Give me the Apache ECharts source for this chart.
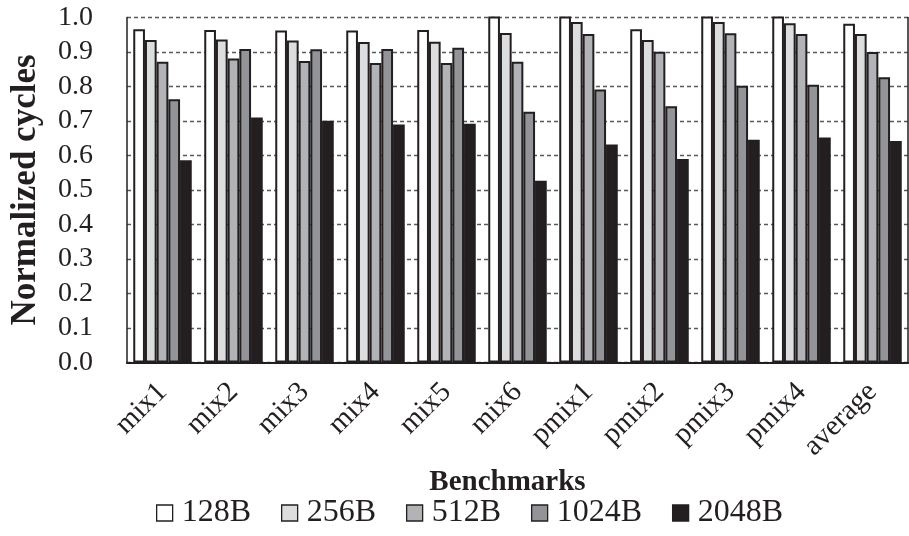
<!DOCTYPE html>
<html>
<head>
<meta charset="utf-8">
<script src="https://cdn.jsdelivr.net/npm/echarts@6/dist/echarts.min.js"></script>
<style>
  html, body { margin: 0; padding: 0; background: #fff; }
  #chart { width: 909px; height: 536px; }
</style>
</head>
<body>
<div id="chart"></div>
<script>
// Benchmarks on the x axis
const categories = ['mix1', 'mix2', 'mix3', 'mix4', 'mix5', 'mix6', 'pmix1', 'pmix2', 'pmix3', 'pmix4', 'average'];
// Normalized cycles per block size
const s128  = [0.966, 0.964, 0.962, 0.962, 0.964, 1.01, 1.01, 0.966, 1.01, 1.01, 0.982];
const s256  = [0.935, 0.936, 0.933, 0.929, 0.930, 0.955, 0.987, 0.935, 0.987, 0.983, 0.952];
const s512  = [0.872, 0.881, 0.874, 0.868, 0.868, 0.872, 0.952, 0.901, 0.954, 0.952, 0.900];
const s1024 = [0.763, 0.909, 0.908, 0.909, 0.912, 0.727, 0.791, 0.743, 0.802, 0.805, 0.827];
const s2048 = [0.586, 0.710, 0.701, 0.690, 0.692, 0.527, 0.632, 0.590, 0.646, 0.652, 0.642];
const seriesNames = ['128B', '256B', '512B', '1024B', '2048B'];
const yTicks = [0, 0.1, 0.2, 0.3, 0.4, 0.5, 0.6, 0.7, 0.8, 0.9, 1.0];

const INK = '#231f20';
const FONT = "'Liberation Serif', 'Times New Roman', serif";
const fills = ['#ffffff', '#dcdddf', '#b1b3b6', '#929497', '#231f20'];
const values = [s128, s256, s512, s1024, s2048];

const chart = echarts.init(document.getElementById('chart'), null, { renderer: 'canvas' });

const series = seriesNames.map((name, i) => ({
  name,
  type: 'bar',
  data: values[i],
  clip: true,
  barWidth: 11.7,
  barGap: '0%',
  itemStyle: { color: fills[i], borderColor: INK, borderWidth: 2 },
  z: 2
}));

chart.setOption({
  backgroundColor: '#ffffff',
  animation: false,
  grid: { left: 124, right: 1, top: 17.5, bottom: 173.5, show: false },
  xAxis: [
    {
      type: 'category',
      data: categories,
      position: 'bottom',
      axisLine: { show: true, lineStyle: { color: INK, width: 2 } },
      axisTick: { show: false },
      axisLabel: {
        rotate: 45, interval: 0, margin: 25,
        fontFamily: FONT, fontSize: 29, color: INK
      },
      name: 'Benchmarks',
      nameLocation: 'middle',
      nameGap: 100,
      nameTextStyle: {
        fontFamily: FONT, fontSize: 29, fontWeight: 'bold', color: INK,
        padding: [0, 20, 0, 0]
      }
    },
    {
      type: 'category',
      data: categories,
      position: 'top',
      z: 1,
      axisLine: { show: true, lineStyle: { color: INK, width: 1.5 } },
      axisTick: { show: false },
      axisLabel: { show: false }
    }
  ],
  yAxis: [
    {
      type: 'value',
      min: 0, max: 1, interval: 0.1,
      axisLine: { show: true, lineStyle: { color: INK, width: 1.5 } },
      axisTick: { show: false },
      axisLabel: {
        margin: 34,
        fontFamily: FONT, fontSize: 28, color: INK,
        formatter: v => {
          const t = yTicks.find(k => Math.abs(k - v) < 1e-6);
          return (t === undefined ? v : t).toFixed(1);
        }
      },
      splitLine: {
        show: true,
        lineStyle: { color: '#58595b', width: 1.3, type: [4, 3] }
      },
      name: 'Normalized cycles',
      nameLocation: 'middle',
      nameGap: 84,
      nameTextStyle: { fontFamily: FONT, fontSize: 35, fontWeight: 'bold', color: INK }
    },
    {
      type: 'value',
      position: 'right',
      min: 0, max: 1, interval: 0.1,
      z: 1,
      axisLine: { show: true, lineStyle: { color: INK, width: 1.5 } },
      axisTick: { show: false },
      axisLabel: { show: false },
      splitLine: { show: false }
    }
  ],
  legend: {
    data: seriesNames,
    left: 151,
    top: 492,
    icon: 'rect',
    itemWidth: 16,
    itemHeight: 16,
    itemGap: 30,
    textStyle: { fontFamily: FONT, fontSize: 32, color: INK, padding: [0, 0, 0, 4] },
    itemStyle: { borderColor: INK, borderWidth: 1.3 }
  },
  series
});
</script>
</body>
</html>
